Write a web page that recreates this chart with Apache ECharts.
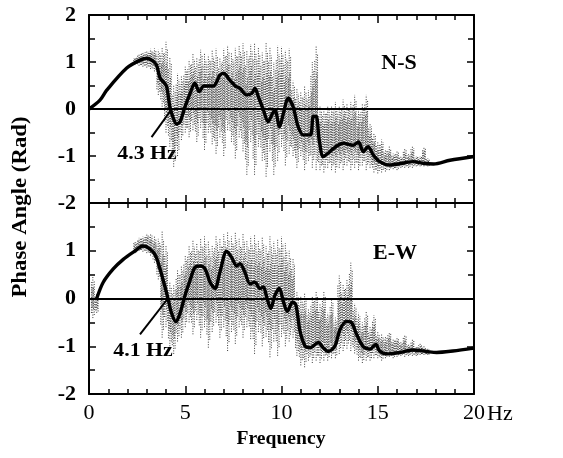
<!DOCTYPE html>
<html>
<head>
<meta charset="utf-8">
<script src="https://cdn.jsdelivr.net/npm/echarts@6/dist/echarts.min.js"></script>
<style>
  html, body { margin: 0; padding: 0; background: #fff; }
  #chart { width: 563px; height: 458px; }
</style>
</head>
<body>
<div id="chart"></div>
<script>
// smoothed phase curves (Hz, rad)
var nsFreq = [0, 0.57, 0.92, 1.96, 2.65, 3.0, 3.26, 3.5, 3.7, 3.86, 4.03, 4.2, 4.35, 4.55, 4.73, 4.99, 5.25, 5.5, 5.73, 5.97, 6.46, 6.8, 7.0, 7.3, 7.6, 7.84, 8.19, 8.45, 8.62, 8.8, 9.06, 9.3, 9.54, 9.66, 9.9, 10.1, 10.35, 10.6, 10.87, 11.13, 11.5, 11.65, 11.8, 11.96, 12.17, 12.43, 12.7, 13.2, 13.73, 14.0, 14.25, 14.5, 14.77, 15.1, 15.6, 16.2, 16.85, 17.4, 17.9, 18.75, 20];
var nsPhase = [0, 0.19, 0.40, 0.87, 1.04, 1.08, 1.04, 0.94, 0.65, 0.58, 0.48, 0.05, -0.16, -0.32, -0.27, 0.05, 0.33, 0.55, 0.37, 0.49, 0.49, 0.72, 0.76, 0.62, 0.49, 0.44, 0.30, 0.33, 0.44, 0.26, -0.02, -0.27, -0.09, -0.02, -0.38, -0.09, 0.23, 0.05, -0.38, -0.55, -0.55, -0.16, -0.16, -0.66, -1.01, -0.94, -0.84, -0.73, -0.77, -0.70, -0.91, -0.80, -0.98, -1.12, -1.19, -1.16, -1.12, -1.16, -1.17, -1.09, -1.01];

var ewFreq = [0.4, 0.74, 1.26, 1.78, 2.3, 2.82, 3.08, 3.43, 3.69, 3.95, 4.12, 4.29, 4.52, 4.73, 4.99, 5.25, 5.5, 5.77, 6.03, 6.29, 6.55, 6.8, 7.15, 7.41, 7.67, 7.84, 8.1, 8.36, 8.62, 8.88, 9.06, 9.23, 9.44, 9.66, 9.89, 10.1, 10.3, 10.58, 10.75, 10.96, 11.22, 11.48, 11.91, 12.17, 12.43, 12.78, 13.04, 13.39, 13.65, 13.9, 14.25, 14.6, 14.9, 15.1, 15.55, 16.16, 16.85, 17.54, 18.06, 18.9, 20];
var ewPhase = [0, 0.34, 0.62, 0.82, 0.97, 1.10, 1.06, 0.92, 0.62, 0.24, -0.03, -0.31, -0.49, -0.31, 0.07, 0.38, 0.65, 0.68, 0.62, 0.34, 0.21, 0.55, 0.99, 0.86, 0.68, 0.73, 0.55, 0.31, 0.34, 0.21, 0.24, 0.03, -0.21, 0.07, 0.21, -0.07, -0.27, -0.07, -0.14, -0.68, -0.99, -1.03, -0.92, -1.03, -1.11, -0.99, -0.65, -0.48, -0.51, -0.75, -1.01, -1.06, -0.96, -1.10, -1.16, -1.13, -1.08, -1.11, -1.13, -1.10, -1.04];

// raw-data spread: lowest / highest dot per 0.2 Hz column
var spreadFreq = [0.2, 0.4, 0.6, 0.8, 1.0, 1.2, 1.4, 1.6, 1.8, 2.0, 2.2, 2.4, 2.6, 2.8, 3.0, 3.2, 3.4, 3.6, 3.8, 4.0, 4.2, 4.4, 4.6, 4.8, 5.0, 5.2, 5.4, 5.6, 5.8, 6.0, 6.2, 6.4, 6.6, 6.8, 7.0, 7.2, 7.4, 7.6, 7.8, 8.0, 8.2, 8.4, 8.6, 8.8, 9.0, 9.2, 9.4, 9.6, 9.8, 10.0, 10.2, 10.4, 10.6, 10.8, 11.0, 11.2, 11.4, 11.6, 11.8, 12.0, 12.2, 12.4, 12.6, 12.8, 13.0, 13.2, 13.4, 13.6, 13.8, 14.0, 14.2, 14.4, 14.6, 14.8, 15.0, 15.2, 15.4, 15.6, 15.8, 16.0, 16.2, 16.4, 16.6, 16.8, 17.0, 17.2, 17.4, 17.6];
var nsSpreadHigh = [null, null, null, null, null, null, null, null, null, null, null, 1.10, 1.18, 1.22, 1.25, 1.28, 1.29, 1.26, 1.30, 1.43, 1.10, 0.50, 0.76, 0.70, 0.90, 1.05, 1.18, 1.10, 1.26, 1.20, 1.15, 1.26, 1.29, 1.10, 1.29, 1.36, 1.20, 1.30, 1.36, 1.40, 1.25, 1.38, 1.40, 1.30, 1.20, 1.40, 1.30, 1.00, 1.35, 1.33, 1.25, 1.29, 0.60, 0.45, 0.35, 0.48, 0.40, 1.00, 1.36, 0.05, 0.02, 0.08, 0.05, 0.15, 0.05, 0.20, 0.10, 0.15, 0.30, 0.00, 0.10, 0.30, -0.30, -0.50, -0.70, -0.65, -0.85, -0.80, -0.95, -0.90, -1.00, -0.85, -0.95, -0.80, -1.00, -1.00, -0.80, -1.05];
var nsSpreadLow = [null, null, null, null, null, null, null, null, null, null, null, 0.95, 0.92, 0.90, 0.88, 0.85, 0.80, 0.30, 0.05, -0.50, -0.80, -1.23, -1.00, -0.66, -0.50, -0.60, -0.45, -0.70, -0.40, -0.87, -0.50, -0.75, -0.95, -0.60, -1.00, -0.45, -0.70, -1.05, -0.60, -0.90, -1.40, -0.70, -1.40, -0.80, -1.10, -1.44, -0.90, -1.40, -1.10, -0.80, -1.20, -0.95, -1.00, -1.25, -1.00, -1.30, -1.10, -1.25, -1.30, -1.30, -1.35, -1.25, -1.30, -1.35, -1.25, -1.30, -1.20, -1.30, -1.25, -1.30, -1.20, -1.30, -1.25, -1.35, -1.37, -1.35, -1.33, -1.30, -1.28, -1.30, -1.25, -1.25, -1.25, -1.25, -1.22, -1.22, -1.22, -1.22];
var ewSpreadHigh = [0.45, 0.10, null, null, null, null, null, null, null, null, null, 1.20, 1.27, 1.30, 1.37, 1.35, 1.30, 1.25, 1.40, 1.10, 0.34, 0.30, 0.60, 0.68, 0.90, 1.10, 1.23, 1.15, 1.25, 1.30, 1.20, 1.10, 1.30, 1.25, 1.35, 1.40, 1.30, 1.40, 1.25, 1.35, 1.20, 1.30, 1.34, 1.20, 1.30, 1.10, 1.30, 1.20, 1.25, 1.30, 1.16, 1.00, 0.85, 0.14, 0.05, 0.10, -0.20, 0.05, 0.14, -0.10, 0.14, -0.30, 0.00, -0.40, 0.48, 0.30, 0.40, 0.75, -0.10, -0.30, -0.50, -0.27, -0.60, -0.35, -0.70, -0.75, -0.80, -0.70, -0.85, -0.80, -0.90, -0.75, -0.95, -0.85, -1.00, -0.95, -1.00, -1.05];
var ewSpreadLow = [-0.41, -0.30, null, null, null, null, null, null, null, null, null, 0.95, 1.00, 0.98, 0.95, 0.90, 0.75, 0.40, -0.82, -0.60, -1.00, -1.16, -0.90, -0.82, -0.60, -0.50, -0.75, -0.45, -0.82, -0.60, -1.03, -0.70, -0.50, -0.82, -0.60, -1.10, -0.70, -0.95, -0.60, -0.82, -0.60, -0.85, -1.16, -0.70, -1.00, -0.80, -1.23, -0.90, -1.20, -0.80, -1.00, -0.90, -0.82, -1.20, -1.40, -1.44, -1.30, -1.35, -1.30, -1.35, -1.30, -1.30, -1.25, -1.25, -1.16, -1.10, -1.05, -1.10, -1.15, -1.30, -1.35, -1.30, -1.30, -1.25, -1.25, -1.30, -1.25, -1.22, -1.25, -1.22, -1.20, -1.22, -1.20, -1.20, -1.20, -1.18, -1.18, -1.18];

var xTicks = [0, 5, 10, 15, 20];
var yTicks = [-2, -1, 0, 1, 2];

var serif = '"Liberation Serif", "DejaVu Serif", serif';

function pairs(xs, ys) {
    var out = [];
    for (var i = 0; i < xs.length; i++) out.push([xs[i], ys[i]]);
    return out;
}

function spread(lows, highs) {
    var out = [];
    for (var i = 0; i < spreadFreq.length; i++) {
        if (lows[i] === null || highs[i] === null) continue;
        out.push([spreadFreq[i], lows[i], highs[i]]);
    }
    return out;
}

// dotted vertical streaks for each column of raw data, denser toward the middle
function renderSpread(params, api) {
    var f = api.value(0);
    var lo = api.coord([f, api.value(1)]);
    var hi = api.coord([f, api.value(2)]);
    var mid = (lo[1] + hi[1]) / 2;
    var half = (lo[1] - hi[1]) / 2;
    var offs = [-1.4, 0, 1.4, -0.7, 0.7];
    var fracs = [0.75, 1, 0.85, 0.45, 0.55];
    var kids = [];
    for (var k = 0; k < offs.length; k++) {
        kids.push({
            type: 'line',
            shape: { x1: lo[0] + offs[k], y1: mid + half * fracs[k], x2: lo[0] + offs[k], y2: mid - half * fracs[k] },
            style: { stroke: '#3a3a3a', lineWidth: 1, lineDash: [1, 1.5] }
        });
    }
    return { type: 'group', children: kids };
}

function xAxisOpt(gi, pos, labels) {
    return {
        type: 'value', gridIndex: gi, position: pos, min: 0, max: 20, interval: 5,
        axisLine: { show: true, onZero: false, lineStyle: { color: '#000', width: 2 } },
        axisTick: { show: true, inside: true, length: 8, lineStyle: { color: '#000', width: 1.5 } },
        minorTick: { show: true, splitNumber: 5, length: 5, lineStyle: { color: '#000', width: 1.5 } },
        splitLine: { show: false },
        axisLabel: {
            show: labels, margin: 8, color: '#000', fontFamily: serif, fontSize: 22,
            formatter: function (v) { return xTicks.indexOf(v) >= 0 ? String(v) : ''; }
        }
    };
}

function yAxisOpt(gi, pos, labels, hideTop) {
    return {
        type: 'value', gridIndex: gi, position: pos, min: -2, max: 2, interval: 1,
        axisLine: { show: true, onZero: false, lineStyle: { color: '#000', width: 2 } },
        axisTick: { show: true, inside: true, length: 7, lineStyle: { color: '#000', width: 1.5 } },
        minorTick: { show: true, splitNumber: 2, length: 6, lineStyle: { color: '#000', width: 1.5 } },
        splitLine: { show: false },
        axisLabel: {
            show: labels, margin: 13, color: '#000', fontFamily: serif, fontSize: 22, fontWeight: 'bold',
            formatter: function (v) {
                if (hideTop && v === 2) return '';
                return yTicks.indexOf(v) >= 0 ? String(v) : '';
            }
        }
    };
}

function zeroLine() {
    return {
        silent: true, symbol: 'none', label: { show: false },
        lineStyle: { color: '#000', width: 2, type: 'solid' },
        data: [{ yAxis: 0 }]
    };
}

function pointer(from, to) {
    return {
        silent: true, symbol: 'none', label: { show: false },
        lineStyle: { color: '#000', width: 2, type: 'solid' },
        data: [[{ coord: from }, { coord: to }]]
    };
}

function label(text, x, y, size, sx, rot) {
    return {
        type: 'text', x: x, y: y, rotation: rot || 0, scaleX: sx,
        style: { text: text, font: 'bold ' + size + 'px ' + serif, fill: '#000', textAlign: 'center', textVerticalAlign: 'middle' }
    };
}

var chart = echarts.init(document.getElementById('chart'));

chart.setOption({
    backgroundColor: '#fff',
    animation: false,
    grid: [
        { left: 89, right: 89, top: 15, height: 188 },
        { left: 89, right: 89, top: 203, height: 191 }
    ],
    xAxis: [
        xAxisOpt(0, 'bottom', false),
        xAxisOpt(0, 'top', false),
        xAxisOpt(1, 'bottom', true),
        xAxisOpt(1, 'top', false)
    ],
    yAxis: [
        yAxisOpt(0, 'left', true, false),
        yAxisOpt(0, 'right', false, false),
        yAxisOpt(1, 'left', true, true),
        yAxisOpt(1, 'right', false, false)
    ],
    series: [
        {
            type: 'custom', xAxisIndex: 0, yAxisIndex: 0, silent: true,
            renderItem: renderSpread, data: spread(nsSpreadLow, nsSpreadHigh), z: 1
        },
        {
            type: 'line', xAxisIndex: 0, yAxisIndex: 0, data: pairs(nsFreq, nsPhase),
            smooth: 0.3, showSymbol: false, lineStyle: { color: '#000', width: 3.4 }, z: 3,
            markLine: zeroLine()
        },
        {
            type: 'line', xAxisIndex: 0, yAxisIndex: 0, data: [], z: 4,
            markLine: pointer([3.25, -0.6], [4.3, 0])
        },
        {
            type: 'custom', xAxisIndex: 2, yAxisIndex: 2, silent: true,
            renderItem: renderSpread, data: spread(ewSpreadLow, ewSpreadHigh), z: 1
        },
        {
            type: 'line', xAxisIndex: 2, yAxisIndex: 2, data: pairs(ewFreq, ewPhase),
            smooth: 0.3, showSymbol: false, lineStyle: { color: '#000', width: 3.4 }, z: 3,
            markLine: zeroLine()
        },
        {
            type: 'line', xAxisIndex: 2, yAxisIndex: 2, data: [], z: 4,
            markLine: pointer([2.65, -0.75], [4.1, 0])
        }
    ],
    graphic: [
        label('Phase Angle (Rad)', 21, 207, 20, 1.14, Math.PI / 2),
        label('Frequency', 281, 439, 18, 1.09),
        {
            type: 'text', x: 487, y: 414,
            style: { text: 'Hz', font: '22px ' + serif, fill: '#000', textAlign: 'left', textVerticalAlign: 'middle' }
        },
        label('N-S', 399, 63, 22, 1),
        label('E-W', 395, 253, 22, 1),
        label('4.3 Hz', 147, 154, 19, 1.15),
        label('4.1 Hz', 143, 351, 19, 1.15)
    ]
});
</script>
</body>
</html>
